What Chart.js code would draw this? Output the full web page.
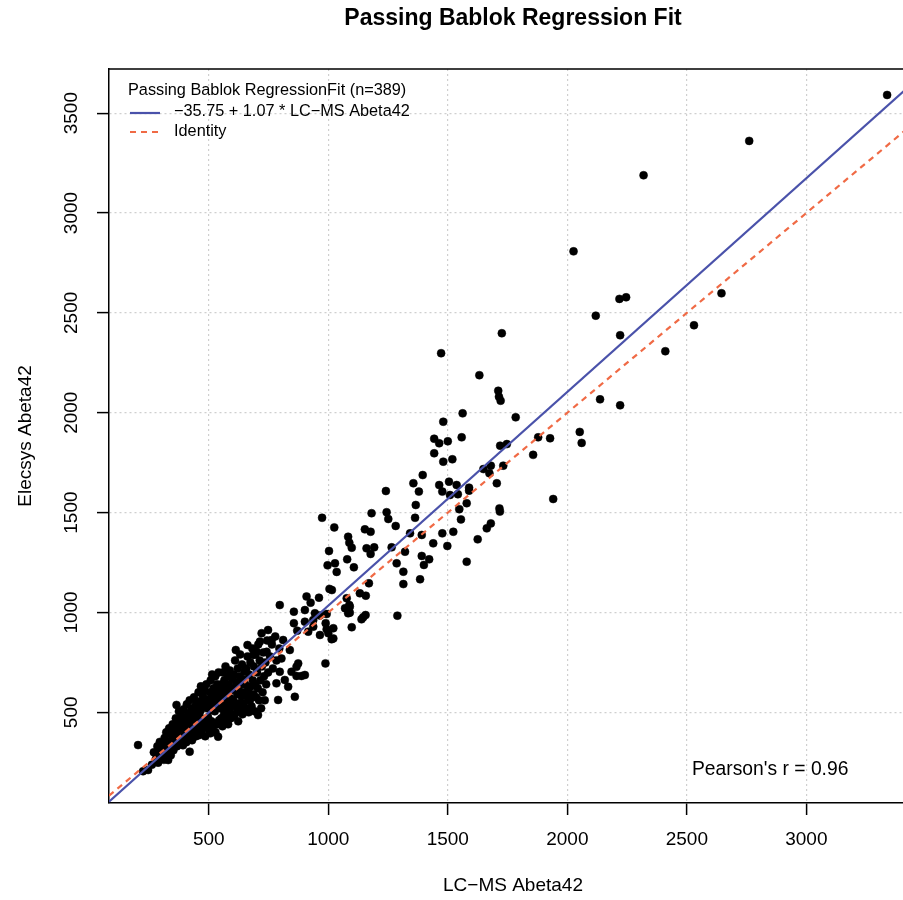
<!DOCTYPE html>
<html>
<head>
<meta charset="utf-8">
<script src="https://cdn.jsdelivr.net/npm/chart.js@4/dist/chart.umd.min.js"></script>
<style>
html,body{margin:0;padding:0;overflow:hidden;background:#ffffff;}
#wrap{width:1026px;height:900px;}
canvas{display:block;}
</style>
</head>
<body>
<div id="wrap"><canvas id="c" width="1026" height="900" style="width:1026px;height:900px"></canvas></div>
<script>
// ---------- texts ----------
const chartTitle = 'Passing Bablok Regression Fit';
const xAxisTitle = 'LC\u2212MS Abeta42';
const yAxisTitle = 'Elecsys Abeta42';
const legendTitle = 'Passing Bablok RegressionFit (n=389)';
const legendFitLabel = '\u221235.75 + 1.07 * LC\u2212MS Abeta42';
const legendIdentityLabel = 'Identity';
const pearsonLabel = "Pearson's r = 0.96";

// ---------- axes ----------
const xTickValues = [500, 1000, 1500, 2000, 2500, 3000];
const yTickValues = [500, 1000, 1500, 2000, 2500, 3000, 3500];
const xRange = [82.5, 3463];
const yRange = [46, 3721];

// ---------- fit ----------
const fitIntercept = -35.75;
const fitSlope = 1.07;

// ---------- data (LC-MS Abeta42 , Elecsys Abeta42) ----------
const lcmsAbeta42 = [
 3338,2761,2319,2026,2218,2246,2119,2221,2410,2530,2645,2137,2221,1941,2052,2060,1857,1878,1928,
 1726,1472,1632,1711,1714,1721,1784,1562,1481,1558,1443,1464,1500,1443,1481,1519,1719,1747,1395,1356,
 1379,1464,1477,1505,1537,1542,1509,1589,1589,1649,1680,1674,1732,1705,1366,1363,1548,1579,1555,1716,
 1718,1523,1477,1391,1439,1498,1625,1663,1680,1391,1422,1400,1579,1321,1314,1314,1384,
 1241,1244,1251,1282,1181,974,1025,1153,1177,1083,1088,1098,1160,1192,1177,1003,1079,1107,997,1028,
 1035,1265,1286,1342,1005,1015,1132,1157,1170,1077,1088,1090,1070,1139,1156,1098,1289,
 909,926,961,902,856,944,993,989,993,965,937,902,856,870,916,1021,797,
 965,937,1000,1014,1021,1090,1083,1146,988,860,
 613,662,700,721,748,763,714,686,811,839,804,874,888,846,818,783,706,539,504,420,204,246,330,302,365,330,225,
 867,867,902,832,790,797,742,
 262,270,278,285,290,295,298,288,
 305,308,312,315,318,322,326,330,334,338,341,344,347,349,
 352,354,357,360,362,365,367,370,372,375,377,380,382,385,387,390,392,395,397,399,
 402,404,406,408,410,412,414,416,418,420,422,424,426,428,430,432,434,436,438,440,442,444,446,447,448,449,
 451,452,454,455,457,458,460,461,463,464,466,467,469,470,472,473,475,478,481,482,484,485,487,490,492,494,497,
 501,502,504,507,508,510,511,513,514,516,517,520,522,523,525,527,528,530,533,535,536,538,541,543,545,548,
 551,552,554,556,557,559,560,562,564,565,567,569,570,572,574,576,577,579,581,583,584,586,588,590,592,594,596,598,
 602,604,606,608,610,612,614,617,619,621,623,625,627,629,631,633,635,637,639,641,643,645,647,649,
 652,654,657,659,662,664,667,669,672,674,677,679,682,684,687,689,692,694,696,698,
 702,705,707,710,713,716,719,722,725,728,731,734,737,740,744,748,
 756,764,768,778,783,795
];
const elecsysAbeta42 = [
 3591,3361,3189,2808,2570,2578,2486,2388,2308,2438,2598,2067,2037,1568,1904,1849,1789,1877,1872,
 2398,2298,2188,2110,2080,2060,1977,1997,1955,1877,1870,1847,1857,1797,1755,1767,1835,1843,1688,1647,
 1605,1638,1605,1655,1638,1592,1588,1625,1610,1718,1735,1697,1735,1647,1538,1474,1517,1547,1466,1521,
 1505,1404,1396,1388,1346,1333,1366,1421,1446,1283,1266,1238,1254,1304,1204,1142,1166,
 1608,1502,1468,1433,1497,1474,1426,1416,1404,1379,1349,1324,1321,1326,1293,1308,1266,1226,1236,1246,
 1203,1326,1246,1396,1118,1112,1096,1084,1146,1071,1037,999,1021,966,987,926,984,
 1080,1049,1074,1012,1004,996,992,946,916,887,929,954,946,909,904,870,1037,
 985,962,896,866,921,1029,996,976,745,578,
 812,837,803,896,912,862,854,787,862,812,770,745,682,703,662,645,486,378,403,303,336,211,261,278,537,270,205,
 728,682,687,628,562,703,803,
 238,300,265,330,285,352,310,248,
 290,345,262,372,320,400,300,355,420,330,285,388,350,440,
 310,372,420,345,470,395,330,440,365,505,410,350,455,390,480,425,335,515,375,445,
 400,470,350,540,430,375,495,410,455,560,385,480,420,520,360,445,505,400,575,465,430,530,380,490,440,545,
 405,470,520,435,600,385,495,455,555,420,510,630,470,395,540,445,585,420,615,530,450,380,565,640,430,520,475,
 545,430,600,395,660,510,455,575,690,420,535,620,445,560,505,680,400,590,530,640,440,555,700,460,610,520,
 575,470,640,520,430,700,545,600,490,660,455,565,730,515,620,480,585,680,440,545,640,505,710,570,470,610,530,670,
 560,690,480,620,760,530,650,500,590,720,455,610,545,680,790,520,640,580,740,490,665,600,545,705,
 640,520,720,580,780,610,500,690,560,750,630,530,820,660,590,730,505,640,790,575,
 700,620,840,560,760,660,520,730,600,800,680,560,750,640,860,700,
 780,840,720,880,760,820
];

// ---------- colours ----------
const fitColor = '#4a52aa';
const identityColor = '#f06a45';
const pointColor = '#000000';
const gridColor = '#cfcfcf';

const points = lcmsAbeta42.map((x, i) => ({x: x, y: elecsysAbeta42[i]}));
const fitLine = xRange.map(x => ({x: x, y: fitIntercept + fitSlope * x}));
const identityLine = xRange.map(x => ({x: x, y: x}));

const baseFont = '"Liberation Sans", Arial, Helvetica, sans-serif';

const overlay = {
  id: 'overlay',
  afterDraw(chart) {
    const {ctx, chartArea: a} = chart;
    ctx.save();
    ctx.strokeStyle = '#000';
    ctx.lineWidth = 1.5;
    ctx.beginPath();
    ctx.moveTo(a.left, a.top);
    ctx.lineTo(a.right, a.top);
    ctx.lineTo(a.right, a.bottom);
    ctx.stroke();

    ctx.fillStyle = '#000';
    ctx.textBaseline = 'middle';
    ctx.textAlign = 'left';
    ctx.font = '16.3px ' + baseFont;
    ctx.fillText(legendTitle, a.left + 19, a.top + 22);
    ctx.fillText(legendFitLabel, a.left + 65, a.top + 43);
    ctx.fillText(legendIdentityLabel, a.left + 65, a.top + 63);

    ctx.lineWidth = 2.2;
    ctx.strokeStyle = fitColor;
    ctx.beginPath();
    ctx.moveTo(a.left + 21, a.top + 44);
    ctx.lineTo(a.left + 51, a.top + 44);
    ctx.stroke();

    ctx.strokeStyle = identityColor;
    ctx.setLineDash([6, 5]);
    ctx.beginPath();
    ctx.moveTo(a.left + 21, a.top + 63);
    ctx.lineTo(a.left + 52, a.top + 63);
    ctx.stroke();
    ctx.setLineDash([]);

    ctx.font = '19.3px ' + baseFont;
    ctx.fillText(pearsonLabel, a.left + 583, a.bottom - 33);
    ctx.restore();
  }
};

new Chart(document.getElementById('c'), {
  data: {
    datasets: [
      {
        type: 'line', label: 'Identity', data: identityLine, order: 0,
        borderColor: identityColor, borderWidth: 2.2, borderDash: [6, 5],
        pointRadius: 0, fill: false
      },
      {
        type: 'line', label: 'Fit', data: fitLine, order: 1,
        borderColor: fitColor, borderWidth: 2.2,
        pointRadius: 0, fill: false
      },
      {
        type: 'scatter', label: 'Samples', data: points, order: 2,
        backgroundColor: pointColor, borderColor: pointColor,
        pointRadius: 4, borderWidth: 0.5
      }
    ]
  },
  options: {
    responsive: false,
    animation: false,
    devicePixelRatio: 1,
    layout: {padding: {left: 0, right: 0, top: 0, bottom: 0}},
    plugins: {
      legend: {display: false},
      tooltip: {enabled: false},
      title: {
        display: true,
        text: chartTitle,
        color: '#000',
        font: {family: baseFont, size: 23, weight: 'bold', lineHeight: 1.2},
        padding: {top: 4.7, bottom: 36.7}
      }
    },
    scales: {
      x: {
        type: 'linear',
        position: 'bottom',
        min: xRange[0], max: xRange[1],
        afterBuildTicks: s => { s.ticks = xTickValues.map(v => ({value: v})); },
        afterFit: s => { s.height = 97; },
        ticks: {
          color: '#000', padding: 13, maxRotation: 0, autoSkip: false,
          font: {family: baseFont, size: 19},
          callback: v => String(v)
        },
        grid: {
          color: gridColor, lineWidth: 1.2, drawTicks: true,
          tickLength: 12, tickColor: '#000', tickWidth: 1.5, tickBorderDash: []
        },
        border: {display: true, color: '#000', width: 1.5, dash: [2, 3]},
        title: {
          display: true, text: xAxisTitle, color: '#000',
          font: {family: baseFont, size: 19, lineHeight: 1.2},
          padding: {top: 0, bottom: 2.6}
        }
      },
      y: {
        type: 'linear',
        position: 'left',
        min: yRange[0], max: yRange[1],
        afterBuildTicks: s => { s.ticks = yTickValues.map(v => ({value: v})); },
        afterFit: s => { s.width = 109; },
        ticks: {
          color: '#000', padding: 4, minRotation: 90, maxRotation: 90,
          crossAlign: 'center', autoSkip: false,
          font: {family: baseFont, size: 19},
          callback: v => String(v)
        },
        grid: {
          color: gridColor, lineWidth: 1.2, drawTicks: true,
          tickLength: 12, tickColor: '#000', tickWidth: 1.5, tickBorderDash: []
        },
        border: {display: true, color: '#000', width: 1.5, dash: [2, 3]},
        title: {
          display: true, text: yAxisTitle, color: '#000',
          font: {family: baseFont, size: 19, lineHeight: 1.2},
          padding: {top: 14.6, bottom: 0}
        }
      },
      yRightMargin: {
        type: 'linear',
        position: 'right',
        display: true,
        min: yRange[0], max: yRange[1],
        afterFit: s => { s.width = 109; },
        ticks: {display: false},
        grid: {display: false, drawTicks: false},
        border: {display: false}
      }
    }
  },
  plugins: [overlay]
});
</script>
</body>
</html>
